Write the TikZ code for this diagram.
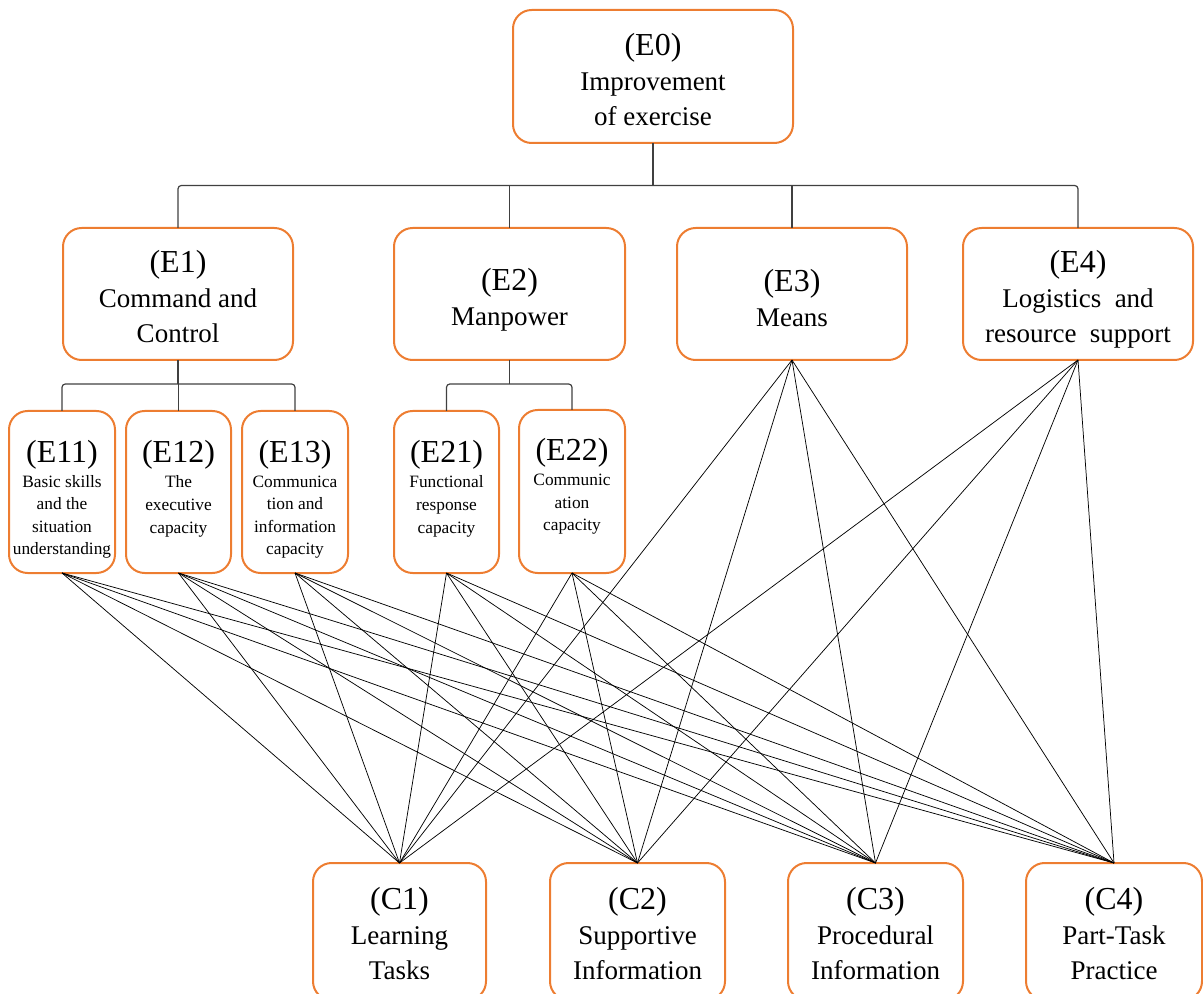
\documentclass[tikz,border=0pt]{standalone}
\usepackage{fontspec}
\setmainfont{Liberation Serif}
\definecolor{boxorange}{HTML}{ED7D31}
\definecolor{treegray}{HTML}{404040}
\newcommand\boxtitle[1]{{\fontsize{24}{26.25}\selectfont #1}}
\begin{document}
\begin{tikzpicture}[x=0.75pt,y=-0.75pt,
  box/.style={draw=boxorange, line width=1.5pt, rounded corners=14pt, inner sep=0pt, outer sep=0pt},
  bigtxt/.style={align=center, anchor=base, inner sep=0pt, font=\fontsize{20.25}{26.25}\selectfont},
  smalltxt/.style={align=center, anchor=base, inner sep=0pt, font=\fontsize{13}{17}\selectfont},
  tree/.style={draw=treegray, line width=0.9pt, rounded corners=2.5pt},
  cross/.style={draw=black, line width=0.55pt}]
\clip (0,0) rectangle (1203,994);
% boxes
\node[box, minimum width=210pt, minimum height=99.75pt] (e0) at (653,76.5) {};
\node[box, minimum width=172.5pt, minimum height=99pt] (e1) at (178,294) {};
\node[box, minimum width=173.25pt, minimum height=99pt] (e2) at (509.5,294) {};
\node[box, minimum width=172.5pt, minimum height=99pt] (e3) at (792,294) {};
\node[box, minimum width=172.5pt, minimum height=99pt] (e4) at (1078,294) {};
\node[box, minimum width=79.5pt, minimum height=121.5pt] (e11) at (62,492) {};
\node[box, minimum width=78.75pt, minimum height=121.5pt] (e12) at (178.5,492) {};
\node[box, minimum width=79.5pt, minimum height=121.5pt] (e13) at (295,492) {};
\node[box, minimum width=78.75pt, minimum height=121.5pt] (e21) at (446.5,492) {};
\node[box, minimum width=79.5pt, minimum height=122.25pt] (e22) at (572,491.5) {};
\node[box, minimum width=129.75pt, minimum height=102.75pt] (c1) at (399.5,931.5) {};
\node[box, minimum width=131.25pt, minimum height=102.75pt] (c2) at (637.5,931.5) {};
\node[box, minimum width=131.25pt, minimum height=102.75pt] (c3) at (875.5,931.5) {};
\node[box, minimum width=132pt, minimum height=102.75pt] (c4) at (1114,931.5) {};
% texts (anchored at the baseline of their last line)
\node[bigtxt] (t0) at (653,126) {\boxtitle{(E0)}\\Improvement\\of exercise};
\node[bigtxt] (t1) at (178,343) {\boxtitle{(E1)}\\Command and\\Control};
\node[bigtxt] (t2) at (509.5,326) {\boxtitle{(E2)}\\Manpower};
\node[bigtxt] (t3) at (792,327) {\boxtitle{(E3)}\\Means};
\node[bigtxt] (t4) at (1078,343) {\boxtitle{(E4)}\\Logistics\ \ and\\resource\ \ support};
\node[smalltxt] (t11) at (62,555) {\boxtitle{(E11)}\\[1.75pt]Basic skills\\and the\\situation\\understanding};
\node[smalltxt] (t12) at (178.5,533) {\boxtitle{(E12)}\\[1.75pt]The\\executive\\capacity};
\node[smalltxt] (t13) at (295,555) {\boxtitle{(E13)}\\[1.75pt]Communica\\tion and\\information\\capacity};
\node[smalltxt] (t21) at (446.5,533) {\boxtitle{(E21)}\\[1.75pt]Functional\\response\\capacity};
\node[smalltxt] (t22) at (572,531) {\boxtitle{(E22)}\\[1.75pt]Communic\\ation\\capacity};
\node[bigtxt] (tc1) at (399.5,979) {\boxtitle{(C1)}\\Learning\\Tasks};
\node[bigtxt] (tc2) at (637.5,979) {\boxtitle{(C2)}\\Supportive\\Information};
\node[bigtxt] (tc3) at (875.5,979) {\boxtitle{(C3)}\\Procedural\\Information};
\node[bigtxt] (tc4) at (1114,979) {\boxtitle{(C4)}\\Part-Task\\Practice};
% tree connectors
\draw[tree] (e0.south) -- ++(0,42.5) coordinate (j0);
\draw[tree] (e1.north) |- (j0) -| (e4.north);
\draw[tree] (e2.north) -- (e2.north |- j0);
\draw[tree] (e3.north) -- (e3.north |- j0);
\draw[tree] (e1.south) -- ++(0,24) coordinate (j1);
\draw[tree] (e11.north) |- (j1) -| (e13.north);
\draw[tree] (e12.north) -- (e12.north |- j1);
\draw[tree] (e2.south) -- ++(0,24) coordinate (j2);
\draw[tree] (e21.north) |- (j2) -| (e22.north);
% cross connectors
\foreach \s in {e11,e12,e13,e21,e22,e3,e4}
  \foreach \t in {c1,c2,c3,c4}
    \draw[cross] (\s.south) -- (\t.north);
\end{tikzpicture}
\end{document}
